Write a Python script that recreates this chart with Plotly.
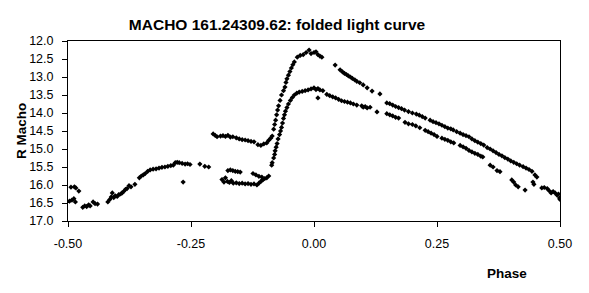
import plotly.graph_objects as go

# ---- data ----
phase_left = [-0.497, -0.492, -0.488, -0.485, -0.494, -0.487, -0.484, -0.478,
              -0.470, -0.466, -0.462, -0.458, -0.455, -0.449, -0.445, -0.440,
              -0.419, -0.415, -0.412, -0.410, -0.407, -0.404, -0.400, -0.397,
              -0.393, -0.390, -0.387, -0.383, -0.380, -0.376, -0.372, -0.364,
              -0.355, -0.351, -0.347, -0.343, -0.338, -0.333, -0.327, -0.321,
              -0.315, -0.309, -0.303, -0.297, -0.291, -0.286, -0.282, -0.278,
              -0.274, -0.268, -0.262, -0.257, -0.252, -0.266, -0.232, -0.222, -0.214]
mag_left = [16.45, 16.42, 16.38, 16.47, 16.06, 16.05, 16.08, 16.17,
            16.62, 16.58, 16.60, 16.55, 16.58, 16.47, 16.52, 16.53,
            16.47, 16.40, 16.33, 16.22, 16.35, 16.30, 16.32, 16.27,
            16.25, 16.22, 16.18, 16.12, 16.10, 16.02, 16.05, 15.98,
            15.80, 15.75, 15.72, 15.68, 15.62, 15.58, 15.56, 15.55,
            15.53, 15.51, 15.50, 15.48, 15.46, 15.45, 15.38, 15.37,
            15.38, 15.40, 15.42, 15.41, 15.43, 15.92, 15.42, 15.48, 15.50]

phase_upper = [-0.205, -0.201, -0.197, -0.190, -0.185, -0.180, -0.175, -0.170,
               -0.165, -0.158, -0.152, -0.146, -0.140, -0.134, -0.128, -0.122,
               -0.114, -0.108, -0.102, -0.096, -0.092, -0.088, -0.085,
               -0.082, -0.080, -0.078, -0.076, -0.074, -0.072, -0.069, -0.066,
               -0.062, -0.059, -0.057, -0.055, -0.052, -0.049, -0.046, -0.043,
               -0.040, -0.034, -0.028, -0.022, -0.016, -0.010, -0.006, 0.000,
               0.004, 0.008, 0.012, 0.016,
               0.043, 0.053, 0.058, 0.062, 0.066, 0.070, 0.074, 0.078, 0.083,
               0.087, 0.093, 0.100, 0.108, 0.118, 0.134,
               0.148, 0.154, 0.160, 0.166, 0.172, 0.178, 0.184, 0.192, 0.200,
               0.208, 0.214, 0.220, 0.226, 0.236, 0.242, 0.248, 0.254, 0.260,
               0.266, 0.272, 0.278, 0.283, 0.290, 0.297, 0.303, 0.309, 0.315,
               0.321, 0.327, 0.333, 0.339, 0.345, 0.352, 0.358, 0.364, 0.370,
               0.376, 0.382, 0.388, 0.394, 0.400, 0.406, 0.412, 0.418, 0.425,
               0.431, 0.437, 0.443, 0.449, 0.453, 0.445, 0.447, 0.463, 0.468,
               0.474, 0.478, 0.482, 0.486, 0.490, 0.494, 0.497, 0.500, 0.499]
mag_upper = [14.58, 14.62, 14.66, 14.64, 14.63, 14.65, 14.62, 14.67,
             14.66, 14.69, 14.72, 14.74, 14.75, 14.77, 14.79, 14.80,
             14.88, 14.90, 14.86, 14.83, 14.76, 14.70, 14.64,
             14.45, 14.32, 14.20, 14.05, 13.92, 13.80, 13.65, 13.50,
             13.38, 13.28, 13.15, 13.05, 12.95, 12.85, 12.75, 12.66,
             12.58, 12.45, 12.40, 12.38, 12.32, 12.25, 12.35, 12.32,
             12.30, 12.38, 12.42, 12.45,
             12.67, 12.80, 12.86, 12.90, 12.93, 12.97, 13.00, 13.04, 13.08,
             13.12, 13.16, 13.22, 13.30, 13.39, 13.47,
             13.72, 13.74, 13.78, 13.82, 13.85, 13.88, 13.92, 13.96, 14.00,
             14.03, 14.06, 14.10, 14.14, 14.20, 14.24, 14.27, 14.30, 14.34,
             14.38, 14.42, 14.44, 14.47, 14.52, 14.56, 14.60, 14.63, 14.66,
             14.72, 14.77, 14.81, 14.85, 14.89, 14.96, 15.00, 15.05, 15.10,
             15.15, 15.19, 15.24, 15.28, 15.33, 15.37, 15.41, 15.45, 15.49,
             15.53, 15.57, 15.62, 15.72, 15.78, 15.92, 15.98, 16.08, 16.07,
             16.10, 16.16, 16.22, 16.18, 16.22, 16.28, 16.25, 16.40, 16.36]

phase_lower = [-0.187, -0.183, -0.180, -0.176, -0.172, -0.168, -0.164, -0.158,
               -0.152, -0.146, -0.140, -0.134, -0.128, -0.122, -0.116, -0.112,
               -0.108, -0.104, -0.100, -0.096, -0.092,
               -0.175, -0.170, -0.165, -0.160, -0.155, -0.150, -0.124, -0.118,
               -0.112, -0.106,
               -0.086, -0.085, -0.082, -0.080, -0.079, -0.077, -0.075, -0.073,
               -0.070, -0.068, -0.066, -0.064, -0.062, -0.060, -0.058, -0.055,
               -0.052, -0.048, -0.044, -0.040, -0.035, -0.030, -0.024, -0.018,
               -0.012, -0.006, 0.000, 0.004, 0.008, 0.012, 0.018, 0.008,
               0.026, 0.032, 0.038, 0.044, 0.050, 0.056, 0.062, 0.068, 0.074,
               0.080, 0.087, 0.097, 0.100, 0.104, 0.108, 0.114, 0.128,
               0.148, 0.154, 0.160, 0.166, 0.172, 0.185, 0.192, 0.200, 0.207,
               0.215, 0.226, 0.232, 0.238, 0.244, 0.250, 0.260, 0.266, 0.272,
               0.278, 0.284, 0.297, 0.303, 0.309, 0.315, 0.321, 0.327, 0.333,
               0.339, 0.343, 0.358, 0.364, 0.372, 0.378, 0.402, 0.406, 0.410,
               0.415, 0.429]
mag_lower = [15.85, 15.92, 15.80, 15.90, 15.93, 15.88, 15.95, 15.94,
             15.96, 15.95, 15.97, 15.96, 15.98, 15.97, 16.00, 15.95,
             15.90, 15.86, 15.82, 15.80, 15.75,
             15.60, 15.58, 15.60, 15.62, 15.63, 15.64, 15.68, 15.72,
             15.76, 15.78,
             15.45, 15.38, 15.25, 15.15, 15.05, 14.95, 14.85, 14.72,
             14.60, 14.50, 14.40, 14.28, 14.15, 14.05, 13.95, 13.85,
             13.75, 13.65, 13.57, 13.50, 13.45, 13.42, 13.40, 13.38,
             13.36, 13.33, 13.30, 13.35, 13.32, 13.36, 13.38, 13.58,
             13.48, 13.52, 13.55, 13.58, 13.62, 13.66, 13.68, 13.70, 13.72,
             13.75, 13.78, 13.80, 13.84, 13.82, 13.86, 13.84, 13.97,
             14.02, 14.05, 14.08, 14.12, 14.14, 14.26, 14.30, 14.32, 14.36,
             14.41, 14.48, 14.52, 14.56, 14.60, 14.65, 14.70, 14.73, 14.76,
             14.80, 14.83, 14.90, 14.94, 14.98, 15.04, 15.08, 15.12, 15.15,
             15.20, 15.22, 15.45, 15.50, 15.60, 15.63, 15.86, 15.92, 16.00,
             16.05, 16.14]

x_ticks = [-0.5, -0.25, 0.0, 0.25, 0.5]
x_tick_labels = ["-0.50", "-0.25", "0.00", "0.25", "0.50"]
y_ticks = [12.0, 12.5, 13.0, 13.5, 14.0, 14.5, 15.0, 15.5, 16.0, 16.5, 17.0]
y_tick_labels = ["12.0", "12.5", "13.0", "13.5", "14.0", "14.5", "15.0",
                 "15.5", "16.0", "16.5", "17.0"]

FONT = "Liberation Sans, Arial, sans-serif"
marker = dict(symbol="diamond", size=4, color="black", line=dict(width=0))

fig = go.Figure()
for px_, mg in [(phase_left, mag_left), (phase_upper, mag_upper), (phase_lower, mag_lower)]:
    fig.add_trace(go.Scatter(x=px_, y=mg, mode="markers", marker=marker,
                             showlegend=False, cliponaxis=True))

fig.update_layout(
    width=589, height=293,
    margin=dict(l=68, r=29, t=41, b=72),
    paper_bgcolor="white", plot_bgcolor="white",
    font=dict(family=FONT, size=12, color="black"),
    title=dict(text="<b>MACHO 161.24309.62: folded light curve</b>",
               font=dict(family=FONT, size=15.5, color="black"),
               x=277 / 589, xref="container", xanchor="center",
               y=1 - 25 / 293, yref="container", yanchor="middle"),
    xaxis=dict(range=[-0.5, 0.5], tickmode="array", tickvals=x_ticks,
               ticktext=x_tick_labels, showgrid=False, zeroline=False,
               showline=True, linecolor="black", linewidth=1, mirror=True,
               ticks="outside", ticklen=5, tickcolor="black",
               ticklabelstandoff=6, tickfont=dict(size=12.5)),
    yaxis=dict(range=[17, 12], tickmode="array", tickvals=y_ticks,
               ticktext=y_tick_labels, showgrid=False, zeroline=False,
               showline=True, linecolor="black", linewidth=1, mirror=True,
               ticks="outside", ticklen=5, tickcolor="black",
               ticklabelstandoff=6, tickfont=dict(size=12.5)),
    annotations=[
        dict(text="<b>Phase</b>", xref="paper", yref="paper",
             x=(507 - 68) / 492, y=-(273 - 221) / 180, showarrow=False,
             xanchor="center", yanchor="middle", font=dict(size=13.5)),
        dict(text="<b>R Macho</b>", xref="paper", yref="paper",
             x=(21 - 68) / 492, y=(221 - 131) / 180, showarrow=False,
             textangle=-90, xanchor="center", yanchor="middle",
             font=dict(size=13.5)),
    ],
)

fig.write_html("out.html")
